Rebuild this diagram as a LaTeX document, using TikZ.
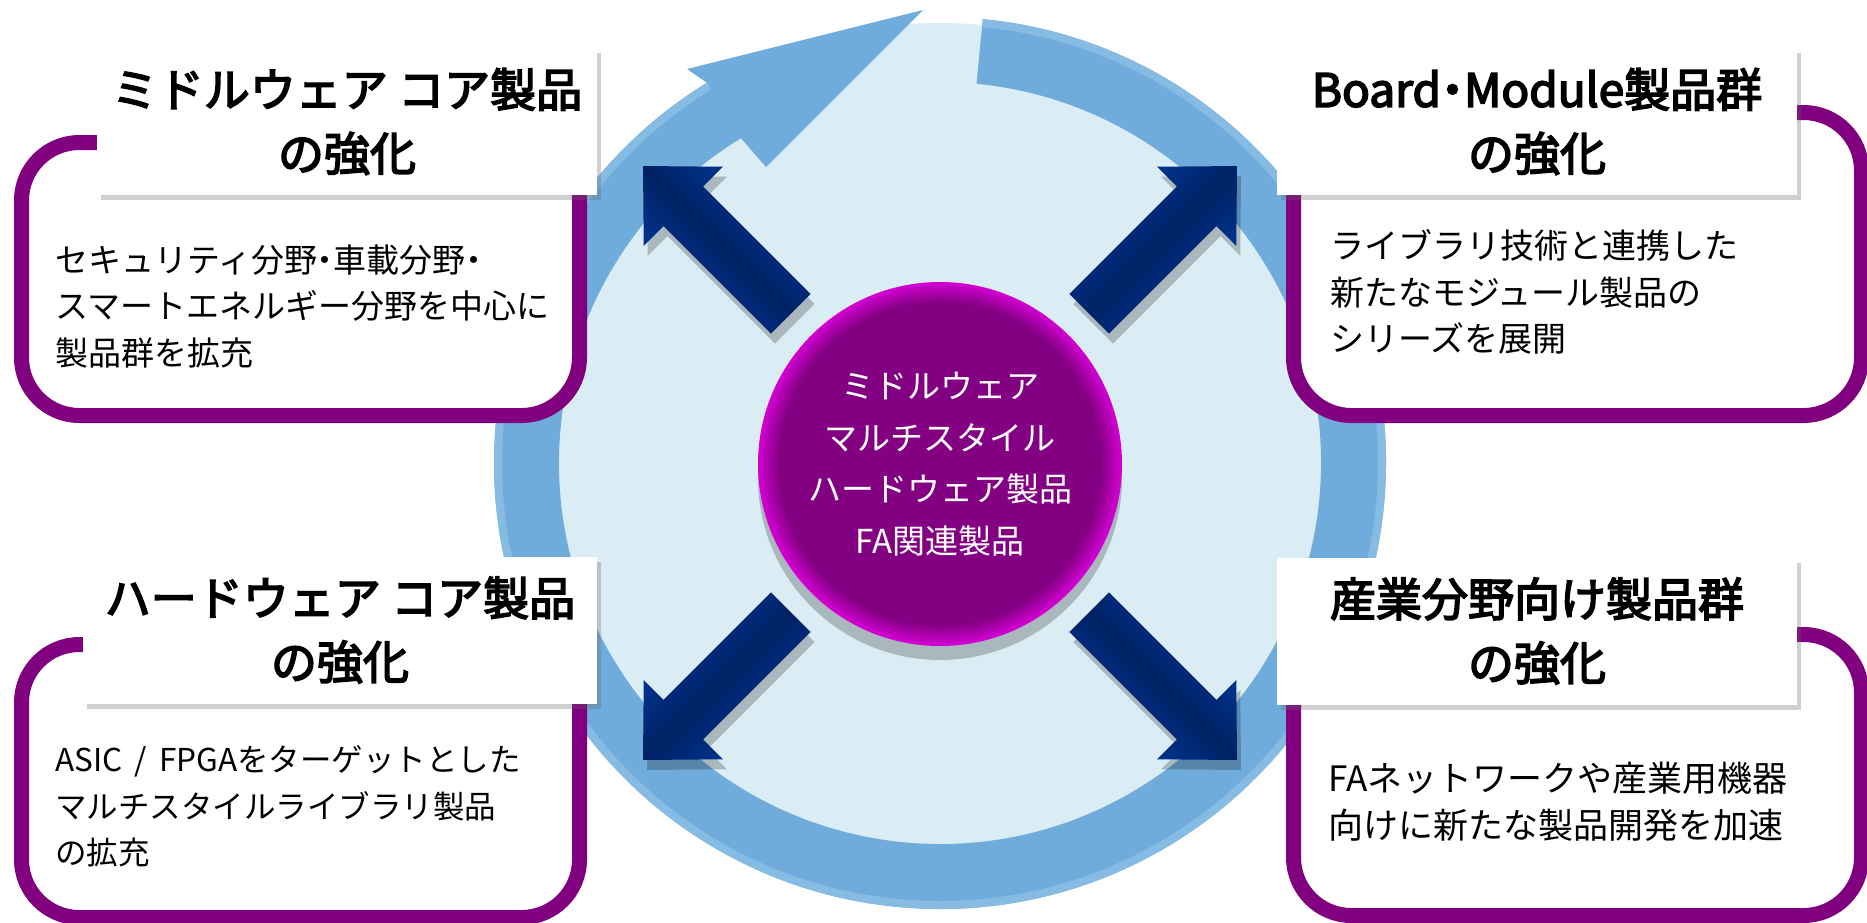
\documentclass[tikz,border=0pt]{standalone}
\usepackage{fontspec}
\setmainfont{Noto Sans CJK JP}
\newfontfamily\titlefont{Noto Sans CJK JP}[BoldFont={Noto Sans CJK JP},FakeBold=3.5]
\usetikzlibrary{calc,shadows,positioning}

\definecolor{ringblue}{RGB}{111,172,220}
\definecolor{ringrim}{RGB}{134,188,228}
\definecolor{disklight}{RGB}{219,237,244}
\definecolor{framepurple}{RGB}{128,0,128}
\definecolor{corepurple}{RGB}{132,0,130}
\definecolor{coremagenta}{RGB}{210,0,210}
\definecolor{navydark}{RGB}{0,34,100}
\definecolor{navylight}{RGB}{0,60,165}

\newcommand\nakaguro{\makebox[.5em]{・}}

\begin{document}
\begin{tikzpicture}[x=1pt,y=1pt,
  panel/.style={draw=framepurple,line width=15pt,rounded corners=58pt,fill=white,inner sep=0pt},
  titlebox/.style={fill=white,minimum height=147pt,inner sep=0pt,align=center,
    font=\titlefont\bfseries\fontsize{46}{64}\selectfont,
    drop shadow={shadow xshift=4pt,shadow yshift=-5pt,opacity=.3,fill=black!60}},
  bodytext/.style={anchor=west,inner sep=0pt,align=left,font=\fontsize{#1}{46.5}\selectfont},
  bigarrow/.style={top color=navylight,bottom color=navylight,middle color=navydark,
    drop shadow={shadow xshift=4pt,shadow yshift=-10pt,opacity=.22,fill=black}},
  corecircle/.style={circle,minimum size=364pt,inner sep=0pt,
    text=white,align=center,font=\fontsize{33}{51.5}\selectfont}]

\useasboundingbox (0,0) rectangle (1867,-922);

\coordinate (C) at (940,-463);
\fill[disklight] (C) circle[radius=440];
\fill[ringblue] ($(C)+(84.5:446)$) arc[start angle=84.5,end angle=-238.5,radius=446]
  -- (687,-69) -- (923,-10) -- (766,-167) -- ($(C)+(121.5:381)$)
  arc[start angle=121.5,end angle=444.5,radius=381] -- cycle;
\draw[ringrim,line width=8pt] ($(C)+(84.5:442)$) arc[start angle=84.5,end angle=-238.5,radius=442];

\foreach \ang in {45,135,225,315}{
  \begin{scope}[shift={(C)},rotate=\ang]
    \path[bigarrow,shading angle=\ang] (211,28) -- (363,28) -- (363,56) -- (420,0)
      -- (363,-56) -- (363,-28) -- (211,-28) -- cycle;
  \end{scope}
}

\coordinate (corecenter) at (940,-464);
\fill[black,opacity=.22] ($(corecenter)+(0,-14)$) circle[radius=182];
\foreach \k in {0,...,10}
  \fill[coremagenta!\the\numexpr100-\k*10\relax!corepurple] (corecenter) circle[radius=182-2*\k];
\node[corecircle] (core) at (corecenter) {ミドルウェア\\マルチスタイル\\ハードウェア製品\\FA関連製品};

\node[panel,minimum width=558pt,minimum height=273pt] (panelMW) at (300.5,-279) {};
\node[titlebox,minimum width=500pt] (titleMW) at (347,-121.5) {ミドルウェア コア製品\\の強化};
\node[bodytext=33] (bodyMW) at (55,-306) {セキュリティ分野\nakaguro 車載分野\nakaguro\\スマートエネルギー分野を中心に\\製品群を拡充};

\node[panel,minimum width=558pt,minimum height=273pt] (panelHW) at (300.5,-781) {};
\node[titlebox,minimum width=514pt] (titleHW) at (340,-630) {ハードウェア コア製品\\の強化};
\node[bodytext=31.5] (bodyHW) at (55,-806.5) {ASIC \,/\, FPGAをターゲットとした\\マルチスタイルライブラリ製品\\の拡充};

\node[panel,minimum width=568pt,minimum height=303pt] (panelBM) at (1577.5,-264) {};
\node[titlebox,minimum width=520pt] (titleBM) at (1537,-121.5) {Board\nakaguro Module製品群\\の強化};
\node[bodytext=34] (bodyBM) at (1330,-292) {ライブラリ技術と連携した\\新たなモジュール製品の\\シリーズを展開};

\node[panel,minimum width=568pt,minimum height=281pt] (panelFA) at (1577.5,-775) {};
\node[titlebox,minimum width=520pt] (titleFA) at (1537,-631) {産業分野向け製品群\\の強化};
\node[bodytext=35] (bodyFA) at (1328,-802) {FAネットワークや産業用機器\\向けに新たな製品開発を加速};

\end{tikzpicture}
\end{document}
